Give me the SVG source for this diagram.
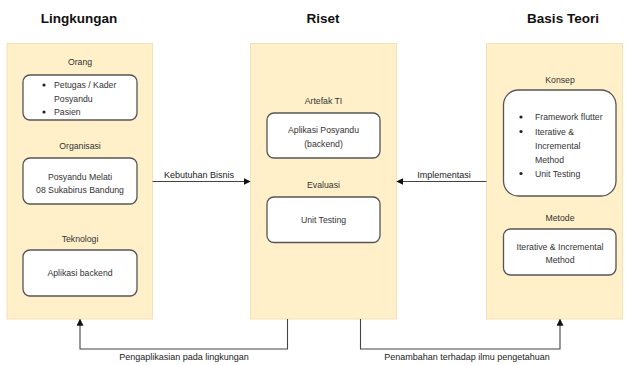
<svg xmlns="http://www.w3.org/2000/svg" width="629" height="365" viewBox="0 0 629 365">
<style>
text{font-family:"Liberation Sans",Arial,sans-serif;fill:#333;font-size:8.7px;dominant-baseline:central}
.t{font-weight:bold;font-size:13.5px;fill:#111;text-anchor:middle}
.c{text-anchor:middle}
.lbl{font-size:9px;fill:#222}
.cont{fill:#fff0c9;stroke:#f3e2b8;stroke-width:1}
.box{fill:#fff;stroke:#555;stroke-width:1.3}
.conn{fill:none;stroke:#444;stroke-width:1.1}
</style>
<defs>
<marker id="ah" viewBox="0 0 10 10" refX="9" refY="5" markerWidth="7" markerHeight="7" markerUnits="userSpaceOnUse" orient="auto">
<path d="M0,0 L10,5 L0,10 Z" fill="#111"/>
</marker>
</defs>
<rect width="629" height="365" fill="#fff"/>

<g id="lingkungan">
<text class="t" x="79" y="18">Lingkungan</text>
<rect class="cont" x="7" y="43.5" width="145.5" height="275.5"/>
<text class="c" x="80" y="62">Orang</text>
<rect class="box" x="23" y="75" width="114" height="45" rx="7"/>
<circle cx="44" cy="85" r="1.6" fill="#222"/><text x="54" y="85">Petugas / Kader</text>
<text x="54" y="98.5">Posyandu</text>
<circle cx="44" cy="112" r="1.6" fill="#222"/><text x="54" y="112">Pasien</text>
<text class="c" x="80" y="146">Organisasi</text>
<rect class="box" x="23" y="158" width="114" height="46" rx="7"/>
<text class="c" x="80" y="177">Posyandu Melati</text>
<text class="c" x="80" y="190">08 Sukabirus Bandung</text>
<text class="c" x="80" y="239">Teknologi</text>
<rect class="box" x="23" y="250" width="114" height="46" rx="7"/>
<text class="c" x="80" y="273">Aplikasi backend</text>
</g>

<g id="riset">
<text class="t" x="323" y="18">Riset</text>
<rect class="cont" x="250.5" y="43.5" width="146" height="275.5"/>
<text class="c" x="323.5" y="101">Artefak TI</text>
<rect class="box" x="267" y="113" width="113" height="45" rx="7"/>
<text class="c" x="323.5" y="130">Aplikasi Posyandu</text>
<text class="c" x="323.5" y="144">(backend)</text>
<text class="c" x="323.5" y="185">Evaluasi</text>
<rect class="box" x="267" y="197" width="113" height="45.5" rx="7"/>
<text class="c" x="323.5" y="220">Unit Testing</text>
</g>

<g id="basis-teori">
<text class="t" x="563" y="18">Basis Teori</text>
<rect class="cont" x="486.5" y="43.5" width="136" height="275.5"/>
<text class="c" x="560" y="80">Konsep</text>
<rect class="box" x="503.5" y="90" width="112.5" height="106" rx="15"/>
<circle cx="521" cy="117" r="1.6" fill="#222"/><text x="535" y="117">Framework flutter</text>
<circle cx="521" cy="131.5" r="1.6" fill="#222"/><text x="535" y="131.5">Iterative &amp;</text>
<text x="535" y="145.5">Incremental</text>
<text x="535" y="159.5">Method</text>
<circle cx="521" cy="173.5" r="1.6" fill="#222"/><text x="535" y="173.5">Unit Testing</text>
<text class="c" x="560" y="218">Metode</text>
<rect class="box" x="503.5" y="229" width="112.5" height="46" rx="7"/>
<text class="c" x="560" y="247">Iterative &amp; Incremental</text>
<text class="c" x="560" y="260">Method</text>
</g>

<g id="connectors">
<path class="conn" d="M152.5,181.5 H250" marker-end="url(#ah)"/>
<text class="c lbl" x="199" y="175">Kebutuhan Bisnis</text>
<path class="conn" d="M486.5,181.5 H397" marker-end="url(#ah)"/>
<text class="c lbl" x="444" y="175">Implementasi</text>
<path class="conn" d="M287.5,319 V349 H80 V319.5" marker-end="url(#ah)"/>
<text class="c lbl" x="184" y="357">Pengaplikasian pada lingkungan</text>
<path class="conn" d="M360.5,319 V349 H560 V319.5" marker-end="url(#ah)"/>
<text class="c lbl" x="467" y="357">Penambahan terhadap ilmu pengetahuan</text>
</g>
</svg>
